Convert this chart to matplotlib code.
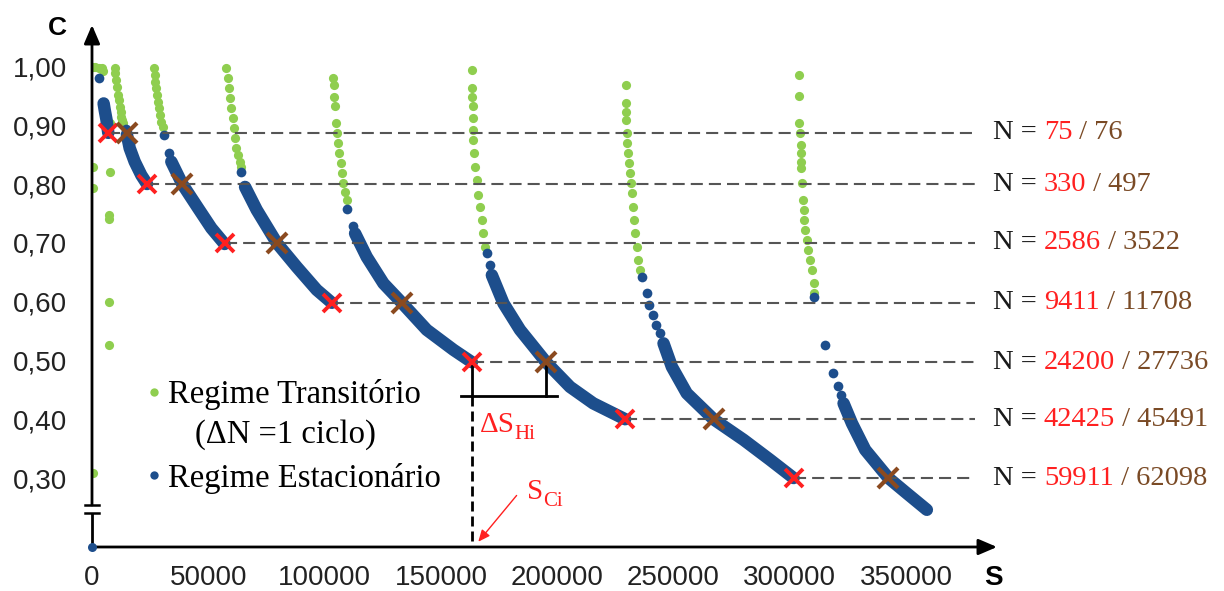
import matplotlib
matplotlib.use("Agg")
import matplotlib.pyplot as plt
from matplotlib.lines import Line2D
from matplotlib.transforms import blended_transform_factory

# ---------------- data (S = cumulative cycles, C = relative stiffness) ----------------
levels = [0.887, 0.80, 0.70, 0.598, 0.497, 0.40, 0.30]
S_red = [7000, 23650, 57000, 103100, 163300, 229200, 301600]
S_brown = [15200, 38800, 79400, 133200, 195200, 267200, 342400]
N_red = ["75", "330", "2586", "9411", "24200", "42425", "59911"]
N_brown = ["76", "497", "3522", "11708", "27736", "45491", "62098"]

x_ticks = [0, 50000, 100000, 150000, 200000, 250000, 300000, 350000]
x_labels = ["0", "50000", "100000", "150000", "200000", "250000", "300000", "350000"]
y_ticks = [1.00, 0.90, 0.80, 0.70, 0.60, 0.50, 0.40, 0.30]
y_labels = ["1,00", "0,90", "0,80", "0,70", "0,60", "0,50", "0,40", "0,30"]

# Regime Transitorio (green), one column per loading block
tr1_S = [300, 1200, 3000, 4200, 4800, 7600, 400, 7600, 400, 7200, 7400, 7300, 7300, 500]
tr1_C = [0.999, 0.999, 0.997, 0.998, 0.993, 0.903, 0.829, 0.821, 0.793, 0.748, 0.740, 0.600, 0.527, 0.309]
tr2_S = [9750, 10000, 10450, 10900, 11200, 11500, 11900, 12300, 12600, 13000, 13300]
tr2_C = [0.997, 0.988, 0.977, 0.965, 0.951, 0.943, 0.931, 0.922, 0.914, 0.909, 0.903]
tr3_S = [26500, 26950, 27200, 27650, 27950, 28400, 28700, 29100, 29800, 30500]
tr3_C = [0.997, 0.985, 0.974, 0.963, 0.951, 0.940, 0.929, 0.917, 0.906, 0.897]
tr4_S = [57750, 58500, 58800, 59200, 59900, 60600, 61100, 61400, 62100, 62800, 63500, 63900]
tr4_C = [0.997, 0.980, 0.963, 0.946, 0.929, 0.912, 0.895, 0.878, 0.861, 0.849, 0.838, 0.829]
tr5_S = [103800, 104100, 104200, 104500, 104900, 105500, 105900, 106300, 106900, 107400, 108100, 108800, 109500]
tr5_C = [0.981, 0.968, 0.948, 0.933, 0.904, 0.886, 0.869, 0.852, 0.835, 0.818, 0.801, 0.787, 0.773]
tr6_S = [163300, 163300, 163500, 163700, 163700, 164000, 164000, 164300, 164700, 165400, 166100, 166800, 167600, 168300, 169000]
tr6_C = [0.994, 0.963, 0.948, 0.933, 0.912, 0.892, 0.875, 0.852, 0.829, 0.807, 0.781, 0.761, 0.739, 0.716, 0.693]
tr7_S = [229600, 229600, 229600, 229600, 229900, 230200, 230600, 230900, 231300, 231600, 232100, 232500, 233100, 233500, 234200, 234900, 235600]
tr7_C = [0.968, 0.937, 0.923, 0.909, 0.886, 0.869, 0.852, 0.835, 0.818, 0.801, 0.784, 0.761, 0.739, 0.716, 0.693, 0.671, 0.654]
tr8_S = [304000, 304000, 304100, 304400, 304700, 304900, 304900, 304900, 305200, 305600, 305900, 306300, 306600, 307300, 308000, 308700, 309500, 310200, 310600]
tr8_C = [0.985, 0.950, 0.904, 0.886, 0.866, 0.852, 0.838, 0.827, 0.801, 0.773, 0.756, 0.739, 0.722, 0.705, 0.688, 0.671, 0.654, 0.631, 0.614]

# Regime Estacionario (blue): isolated first points and the dense part of each block
st1_S = [3200];                 st1_C = [0.980]
st2_S = [14700];                st2_C = [0.893]
st3_S = [31000, 33100];         st3_C = [0.883, 0.852]
st4_S = [63900];                st4_C = [0.821]
st5_S = [109500, 112100];       st5_C = [0.757, 0.729]
st6_S = [170000, 171100];       st6_C = [0.682, 0.662]
st7_S = [236300, 238400, 239600, 241100, 242500, 244200]
st7_C = [0.642, 0.614, 0.594, 0.577, 0.560, 0.547]
st8_S = [310500, 315200, 318500, 320500, 321900]
st8_C = [0.608, 0.526, 0.479, 0.456, 0.441]

de1_S = [5000, 5500, 6200, 7000];                     de1_C = [0.937, 0.925, 0.910, 0.887]
de2_S = [15000, 16200, 18350, 21200, 23650];          de2_C = [0.884, 0.861, 0.838, 0.815, 0.800]
de3_S = [34100, 38800, 45600, 51300, 57000];          de3_C = [0.838, 0.800, 0.759, 0.725, 0.698]
de4_S = [65800, 70800, 79400, 88000, 96600, 103100];  de4_C = [0.795, 0.756, 0.700, 0.659, 0.620, 0.598]
de5_S = [113100, 118100, 125300, 133200, 143900, 155400, 163300]
de5_C = [0.716, 0.676, 0.631, 0.598, 0.552, 0.518, 0.497]
de6_S = [171900, 176900, 184000, 195200, 205500, 215500, 229200]
de6_C = [0.645, 0.597, 0.552, 0.497, 0.455, 0.427, 0.400]
de7_S = [245700, 249300, 255700, 267200, 280100, 291500, 301600]
de7_C = [0.529, 0.489, 0.444, 0.400, 0.365, 0.331, 0.300]
de8_S = [323100, 326700, 332400, 342400, 350300, 358900]
de8_C = [0.427, 0.393, 0.348, 0.300, 0.274, 0.246]

origin_S = [0]
origin_C = [0.0]

# ---------------- style ----------------
GREEN = "#8fce4f"
BLUE = "#1d4e8c"
RED = "#ff2020"
BROWN = "#8b4a1f"
SERIF = "Liberation Serif"
SANS = "Liberation Sans"

W, H = 1224, 591
fig = plt.figure(figsize=(W / 100, H / 100), dpi=100)
fig.patch.set_facecolor("white")

def fx(px):
    return px / W

def fy(py):
    return 1 - py / H

ax_left, ax_right, ax_top, ax_bot = 92, 997, 25, 547
ax = fig.add_axes([fx(ax_left), fy(ax_bot), (ax_right - ax_left) / W, (ax_bot - ax_top) / H])
ax.set_xlim(0, 389060)
ax.set_ylim(0.1827, 1.0704)
for sp in ax.spines.values():
    sp.set_visible(False)
ax.patch.set_alpha(0)

ax.set_xticks(x_ticks)
ax.set_xticklabels(x_labels, fontsize=20, family=SANS, color="#222222")
ax.set_yticks(y_ticks)
ax.set_yticklabels(y_labels, fontsize=20, family=SANS, color="#222222")
ax.tick_params(axis="both", length=0)
ax.tick_params(axis="x", pad=13)
ax.tick_params(axis="y", pad=18)

# lower part of the broken C axis (holds the origin point C = 0)
ax_low = fig.add_axes([fx(ax_left), fy(ax_bot), (ax_right - ax_left) / W, 25 / H])
ax_low.set_xlim(ax.get_xlim())
ax_low.set_ylim(0, 0.04)
ax_low.axis("off")
ax_low.plot(origin_S, origin_C, "o", ms=6.5, color=BLUE, mec="none", clip_on=False, zorder=6)

# transient points
for s, c in [(tr1_S, tr1_C), (tr2_S, tr2_C), (tr3_S, tr3_C), (tr4_S, tr4_C),
             (tr5_S, tr5_C), (tr6_S, tr6_C), (tr7_S, tr7_C), (tr8_S, tr8_C)]:
    ax.plot(s, c, "o", ms=6.6, color=GREEN, mec="none", zorder=2)

# stationary points
for s, c in [(st1_S, st1_C), (st2_S, st2_C), (st3_S, st3_C), (st4_S, st4_C),
             (st5_S, st5_C), (st6_S, st6_C), (st7_S, st7_C), (st8_S, st8_C)]:
    ax.plot(s, c, "o", ms=7, color=BLUE, mec="none", zorder=3)
for s, c in [(de1_S, de1_C), (de2_S, de2_C), (de3_S, de3_C), (de4_S, de4_C),
             (de5_S, de5_C), (de6_S, de6_C), (de7_S, de7_C), (de8_S, de8_C)]:
    ax.plot(s, c, "-", lw=9, color=BLUE, solid_capstyle="round",
            solid_joinstyle="round", zorder=3)

# dashed reference lines and labels
dash_end = 379600
trans = blended_transform_factory(ax.transAxes, ax.transData)
for lvl, sr, nr, nb in zip(levels, S_red, N_red, N_brown):
    ax.plot([sr, dash_end], [lvl, lvl], color="#555555", lw=1.5,
            ls=(0, (5.8, 2.9)), zorder=4)
    t0 = ax.text((993 - ax_left) / (ax_right - ax_left), lvl, "N = ", transform=trans,
                 ha="left", va="center", fontsize=20.5, family=SERIF,
                 color="#1a1a1a", clip_on=False)
    t1 = ax.annotate(nr, xy=(1, 0), xycoords=t0, ha="left", va="bottom",
                     fontsize=20.5, family=SERIF, color=RED, annotation_clip=False)
    ax.annotate(" / " + nb, xy=(1, 0), xycoords=t1, ha="left", va="bottom",
                fontsize=20.5, family=SERIF, color="#7a4a25", annotation_clip=False)

ax.plot(S_red, levels, "x", ms=13.5, mew=2.8, color=RED, zorder=6)
ax.plot(S_brown, levels, "x", ms=14, mew=3.0, color=BROWN, zorder=6)

# Delta S_Hi bracket and S_Ci marker (block with N = 24200 / 27736)
i = 4
s_ci, s_hi, lvl = S_red[i], S_brown[i], levels[i]
c_br = 0.4395
ax.plot([s_ci - 4600, s_hi + 4800], [c_br, c_br], color="black", lw=2, zorder=5)
ax.plot([s_ci, s_ci], [lvl, c_br], color="black", lw=2, zorder=5)
ax.plot([s_hi, s_hi], [lvl, c_br], color="black", lw=2, zorder=5)
ax.plot([s_ci, s_ci], [c_br, 0.1827], color="black", lw=2, ls=(0, (3.6, 1.8)),
        zorder=5, clip_on=False)
tD = ax.text(s_ci + 3300, 0.391, "ΔS", ha="left", va="center", fontsize=21,
             family=SERIF, color=RED)
ax.annotate("Hi", xy=(1, 0.12), xycoords=tD, ha="left", va="center",
            fontsize=15, family=SERIF, color=RED)
tS = ax.text(187000, 0.277, "S", ha="left", va="center", fontsize=21,
             family=SERIF, color=RED)
ax.annotate("Ci", xy=(1, 0.12), xycoords=tS, ha="left", va="center",
            fontsize=15, family=SERIF, color=RED)
ax.annotate("", xy=(s_ci + 2000, 0.188), xytext=(s_ci + 20000, 0.274),
            arrowprops=dict(arrowstyle="-|>,head_length=0.5,head_width=0.22",
                            color=RED, lw=1.0, mutation_scale=14), zorder=6)

# axes with arrows and the break on the C axis
y_break_lo = (ax_bot - 513) / (ax_bot - ax_top)
y_break_hi = (ax_bot - 505) / (ax_bot - ax_top)
ax.annotate("", xy=(0, 1), xycoords="axes fraction", xytext=(0, y_break_hi),
            arrowprops=dict(arrowstyle="-|>,head_length=0.7,head_width=0.3",
                            color="black", lw=2, mutation_scale=16,
                            shrinkA=0, shrinkB=0))
ax.plot([0, 0], [0, y_break_lo], color="black", lw=2, transform=ax.transAxes,
        clip_on=False, solid_capstyle="butt")
for yb in (y_break_lo, y_break_hi):
    ax.plot([-7 / 905, 7 / 905], [yb, yb], color="black", lw=1.8,
            transform=ax.transAxes, clip_on=False)
ax.annotate("", xy=(1, 0), xycoords="axes fraction", xytext=(0, 0),
            arrowprops=dict(arrowstyle="-|>,head_length=0.7,head_width=0.3",
                            color="black", lw=2, mutation_scale=16,
                            shrinkA=0, shrinkB=0))

fig.text(fx(57), fy(28), "C", ha="center", va="center", fontsize=19,
         fontweight="bold", family=SANS)
fig.text(fx(993), fy(578), "S", ha="center", va="center", fontsize=20,
         fontweight="bold", family=SANS)

# legend
handles = [Line2D([], [], ls="none", marker="o", ms=6, color=GREEN, mec="none"),
           Line2D([], [], ls="none", marker="o", ms=6, color=BLUE, mec="none")]
leg = fig.legend(handles, ["Regime Transitório", "Regime Estacionário"],
                 loc="upper left", bbox_to_anchor=(fx(144), fy(379)),
                 frameon=False, prop={"family": SERIF, "size": 23.5},
                 handlelength=0.6, handletextpad=0.12, labelspacing=1.62,
                 borderpad=0, borderaxespad=0)
fig.text(fx(195), fy(435), "(ΔN =1 ciclo)", ha="left", va="center",
         fontsize=23.5, family=SERIF, color="black")

fig.savefig("out.png", dpi=100, facecolor="white")
